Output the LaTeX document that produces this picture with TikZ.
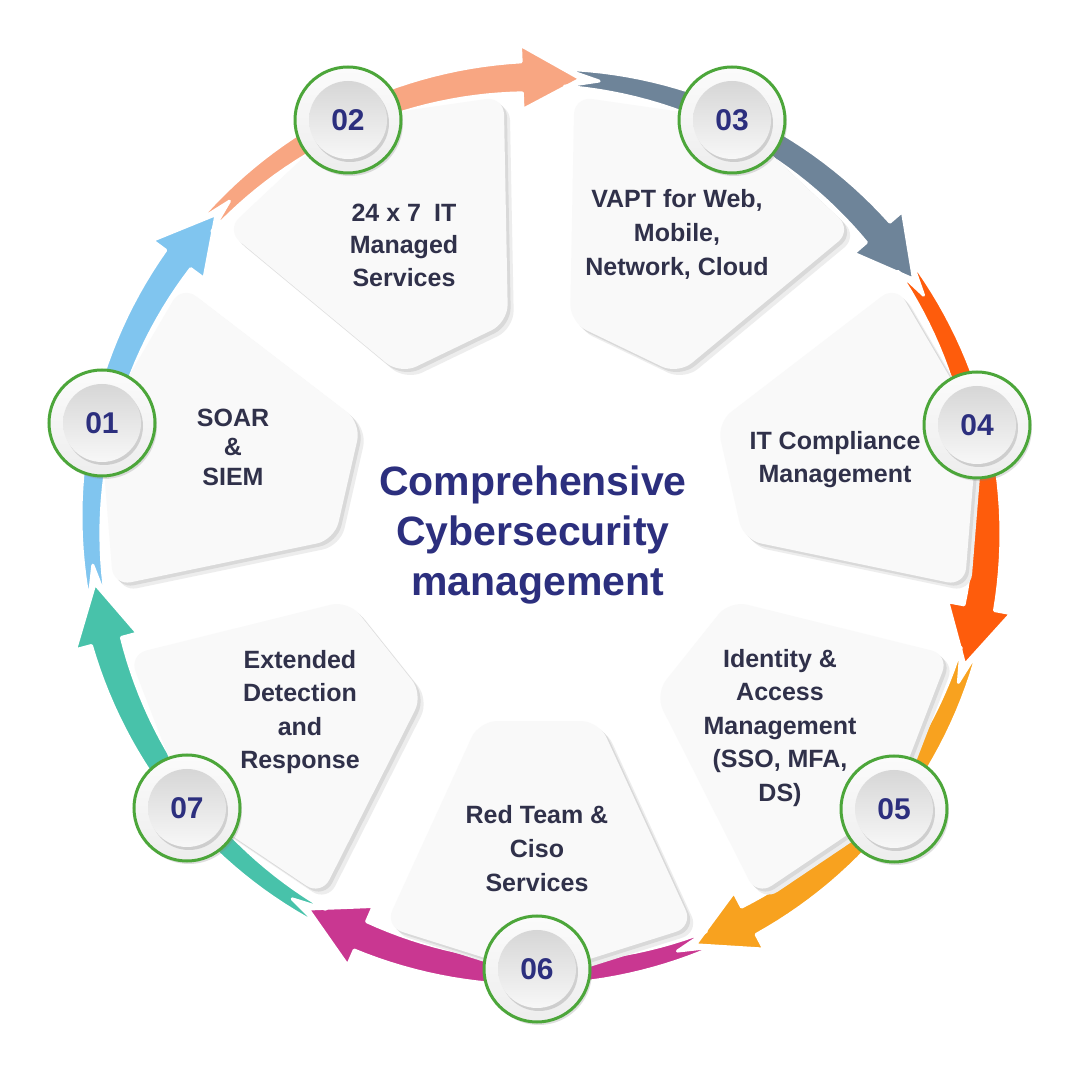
\documentclass[tikz,border=0pt]{standalone}
\usepackage{fontspec}
\setmainfont{Liberation Sans}
\usetikzlibrary{shadows}
\definecolor{cblue}{HTML}{80C5EF}
\definecolor{csalmon}{HTML}{F8A682}
\definecolor{cslate}{HTML}{6E8499}
\definecolor{corange}{HTML}{FE5C0C}
\definecolor{camber}{HTML}{F8A21F}
\definecolor{cmagenta}{HTML}{C93791}
\definecolor{cteal}{HTML}{48C2AA}
\definecolor{bgreen}{HTML}{4CA63A}
\definecolor{navy}{HTML}{2C2F7E}
\definecolor{textdark}{HTML}{30314A}
\definecolor{panelfill}{HTML}{F9F9F9}
\newcommand{\RR}{448}
\newcommand{\wA}{17}
\newcommand{\wB}{31}
\newcommand{\hw}{64}
\newcommand{\ringarrow}[2]{%
  \pgfmathsetmacro{\aZ}{#2+22.4}%
  \pgfmathsetmacro{\aB}{#2-23.5}%
  \pgfmathsetmacro{\aT}{#2-31}%
  \pgfmathsetmacro{\aN}{#2+18}%
  \fill[#1, draw=white, line width=3pt, line join=round]
    (\aZ:{\RR+\wA/2})
    -- plot[domain=\aZ:\aB, samples=30] (\x:{\RR+(\wA+(\wB-\wA)*(\x-\aZ)/(\aB-\aZ))/2})
    -- (\aB:{\RR+\hw/2}) -- (\aT:\RR) -- (\aB:{\RR-\hw/2})
    -- plot[domain=\aB:\aZ, samples=30] (\x:{\RR-(\wA+(\wB-\wA)*(\x-\aZ)/(\aB-\aZ))/2})
    -- (\aN:\RR) -- cycle;
}
\newcommand{\panel}[1]{%
  \fill[gray!14, rounded corners=18pt, shift={(6,-6)}]
    (#1:450) -- (#1-21:430) -- (#1-17:205) -- (#1+17:205) -- (#1+21:430) -- cycle;
  \fill[gray!30, rounded corners=18pt, shift={(3,-3)}]
    (#1:450) -- (#1-21:430) -- (#1-17:205) -- (#1+17:205) -- (#1+21:430) -- cycle;
  \fill[panelfill, rounded corners=18pt]
    (#1:450) -- (#1-21:430) -- (#1-17:205) -- (#1+17:205) -- (#1+21:430) -- cycle;
}
\tikzset{
  badgeout/.style={circle, minimum size=106, inner sep=0pt, draw=bgreen, line width=3pt,
    top color=gray!3, bottom color=gray!14,
    drop shadow={shadow xshift=2pt, shadow yshift=-3pt, opacity=0.25}},
  badgein/.style={circle, minimum size=78, inner sep=0pt, top color=gray!32, bottom color=gray!6,
    drop shadow={shadow xshift=2pt, shadow yshift=-3pt, opacity=0.3},
    font=\fontsize{30}{30}\selectfont\bfseries, text=navy},
  ptext/.style={font=\fontsize{25}{33.5}\selectfont\bfseries, text=textdark, align=center, inner sep=0pt},
  titletext/.style={font=\fontsize{41}{50}\selectfont\bfseries, text=navy, align=center, inner sep=0pt}
}
\newcommand{\badge}[3]{%
  \node[badgeout] (#1) at #2 {};
  \node[badgein] (#1i) at #2 {#3};
}
\begin{document}
\begin{tikzpicture}[x=1pt, y=1pt]
\useasboundingbox (0,0) rectangle (1080,1080);
\fill[white] (0,0) rectangle (1080,1080);
\begin{scope}[shift={(539,555)}]
  \ringarrow{cblue}{167.14}
  \ringarrow{csalmon}{115.71}
  \ringarrow{cslate}{64.29}
  \ringarrow{corange}{12.86}
  \ringarrow{camber}{-38.57}
  \ringarrow{cmagenta}{-90}
  \ringarrow{cteal}{-141.43}
  \panel{167.14}
  \panel{115.71}
  \panel{64.29}
  \panel{12.86}
  \panel{-38.57}
  \panel{-90}
  \panel{-141.43}
\end{scope}
\node[ptext, font=\fontsize{25}{29.5}\selectfont\bfseries] (t1) at (233,633) {SOAR\\\&\\SIEM};
\node[ptext, font=\fontsize{25}{32.5}\selectfont\bfseries] (t2) at (404,835) {24 x 7\hspace{0.25em} IT\\Managed\\Services};
\node[ptext, font=\fontsize{25}{34}\selectfont\bfseries] (t3) at (677,846) {VAPT for Web,\\Mobile,\\Network, Cloud};
\node[ptext, font=\fontsize{25}{33}\selectfont\bfseries] (t4) at (835,620) {IT Compliance\\Management};
\node[ptext] (t5) at (780,352) {Identity \&\\Access\\Management\\(SSO, MFA,\\DS)};
\node[ptext, font=\fontsize{25}{34}\selectfont\bfseries] (t6) at (537,231) {Red Team \&\\Ciso\\Services};
\node[ptext] (t7) at (300,368) {Extended\\Detection\\and\\Response};
\node[titletext] (title) at (533,545) {Comprehensive\\Cybersecurity\\\hspace*{10pt}management};
\badge{b1}{(102,657)}{01}
\badge{b2}{(348,960)}{02}
\badge{b3}{(732,960)}{03}
\badge{b4}{(977,655)}{04}
\badge{b5}{(894,271)}{05}
\badge{b6}{(537,111)}{06}
\badge{b7}{(187,272)}{07}
\end{tikzpicture}
\end{document}
